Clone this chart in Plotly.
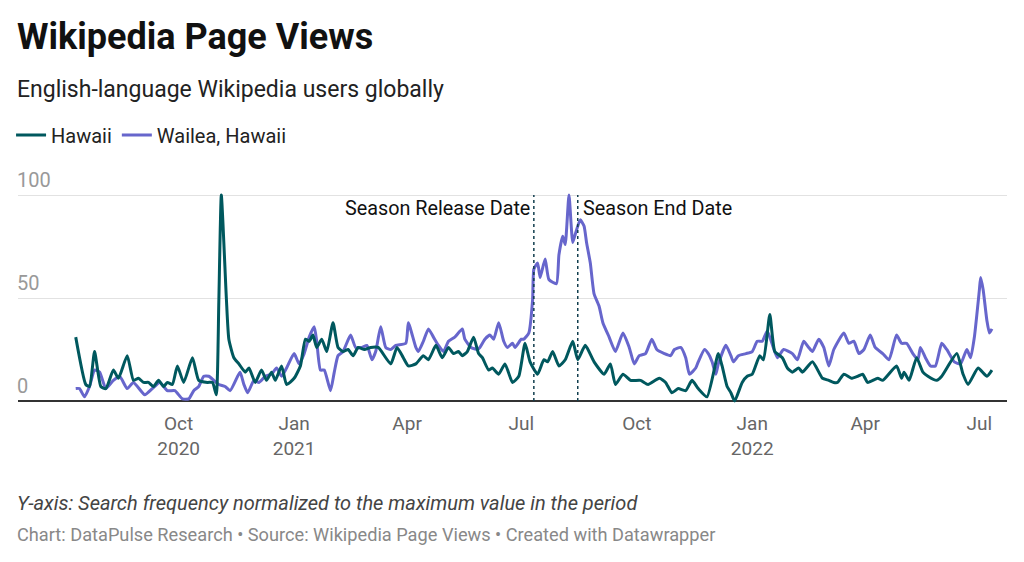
import plotly.graph_objects as go

# Wikipedia page views, normalized to the maximum in the period (=100)
hawaii_dates = [
    "2020-07-11", "2020-07-19", "2020-07-22", "2020-07-26", "2020-07-31", "2020-08-04",
    "2020-08-10", "2020-08-14", "2020-08-21", "2020-08-26", "2020-08-30", "2020-09-03",
    "2020-09-07", "2020-09-11", "2020-09-15", "2020-09-19", "2020-09-22", "2020-09-26",
    "2020-09-30", "2020-10-05", "2020-10-12", "2020-10-17", "2020-10-24", "2020-10-28",
    "2020-10-31", "2020-11-02", "2020-11-04", "2020-11-08", "2020-11-10", "2020-11-14",
    "2020-11-18", "2020-11-23", "2020-11-26", "2020-12-01", "2020-12-06", "2020-12-10",
    "2020-12-14", "2020-12-17", "2020-12-22", "2020-12-26", "2021-01-01", "2021-01-06",
    "2021-01-10", "2021-01-13", "2021-01-16", "2021-01-19", "2021-01-23", "2021-01-27",
    "2021-02-01", "2021-02-05", "2021-02-09", "2021-02-13", "2021-02-17", "2021-02-21",
    "2021-02-26", "2021-03-03", "2021-03-09", "2021-03-19", "2021-03-24", "2021-03-29",
    "2021-04-02", "2021-04-08", "2021-04-14", "2021-04-18", "2021-04-24", "2021-04-29",
    "2021-05-04", "2021-05-08", "2021-05-12", "2021-05-15", "2021-05-19", "2021-05-24",
    "2021-05-28", "2021-05-31", "2021-06-05", "2021-06-08", "2021-06-13", "2021-06-18",
    "2021-06-24", "2021-06-29", "2021-07-04", "2021-07-08", "2021-07-14", "2021-07-19",
    "2021-07-22", "2021-07-26", "2021-07-31", "2021-08-05", "2021-08-11", "2021-08-15",
    "2021-08-21", "2021-08-28", "2021-09-05", "2021-09-10", "2021-09-14", "2021-09-20",
    "2021-09-26", "2021-10-04", "2021-10-10", "2021-10-19", "2021-10-24", "2021-10-29",
    "2021-11-03", "2021-11-09", "2021-11-14", "2021-11-19", "2021-11-26", "2021-12-05",
    "2021-12-08", "2021-12-12", "2021-12-15", "2021-12-18", "2021-12-24", "2021-12-28",
    "2022-01-01", "2022-01-07", "2022-01-10", "2022-01-15", "2022-01-19", "2022-01-25",
    "2022-01-29", "2022-02-02", "2022-02-07", "2022-02-10", "2022-02-18", "2022-02-26",
    "2022-03-03", "2022-03-07", "2022-03-10", "2022-03-15", "2022-03-21", "2022-03-26",
    "2022-03-30", "2022-04-03", "2022-04-11", "2022-04-15", "2022-04-26", "2022-04-30",
    "2022-05-02", "2022-05-06", "2022-05-12", "2022-05-17", "2022-05-21", "2022-05-28",
    "2022-06-01", "2022-06-13", "2022-06-18", "2022-06-22", "2022-06-30", "2022-07-07",
    "2022-07-11",
]
hawaii_views = [
    31, 8, 7, 24, 7, 6,
    15, 11, 22, 10, 11, 9,
    9, 7, 10, 7, 9, 8,
    17, 9, 21, 10, 9, 9,
    3, 48, 100, 50, 30, 21,
    18, 14, 16, 9, 15, 10,
    14, 10, 17, 8, 11, 17,
    30, 29, 32, 26, 30, 24,
    38, 26, 24, 25, 22, 26,
    25, 26, 26, 18, 26, 21,
    17, 18, 22, 20, 27, 21,
    26, 23, 24, 22, 24, 31,
    23, 21, 15, 16, 13, 18,
    9, 12, 28, 19, 13, 20,
    19, 24, 17, 20, 29, 20,
    27, 19, 13, 18, 8, 13,
    10, 10, 8, 11, 9, 4,
    6, 5, 10, 6, 2, 23,
    17, 7, 4, 0, 9, 12,
    13, 22, 20, 42, 24, 21,
    16, 14, 16, 14, 19, 11,
    10, 9, 9, 13, 11, 12,
    13, 9, 11, 10, 17, 11,
    14, 10, 21, 14, 12, 10,
    12, 23, 13, 8, 16, 12,
    15,
]

wailea_dates = [
    "2020-07-11", "2020-07-14", "2020-07-18", "2020-07-22", "2020-07-26", "2020-07-30",
    "2020-08-04", "2020-08-10", "2020-08-15", "2020-08-21", "2020-08-26", "2020-09-04",
    "2020-09-10", "2020-09-16", "2020-09-22", "2020-09-28", "2020-10-04", "2020-10-09",
    "2020-10-13", "2020-10-17", "2020-10-21", "2020-10-25", "2020-10-29", "2020-11-02",
    "2020-11-07", "2020-11-11", "2020-11-17", "2020-11-19", "2020-11-22", "2020-11-25",
    "2020-11-30", "2020-12-04", "2020-12-09", "2020-12-14", "2020-12-18", "2020-12-22",
    "2020-12-26", "2021-01-01", "2021-01-05", "2021-01-09", "2021-01-13", "2021-01-17",
    "2021-01-19", "2021-01-22", "2021-01-25", "2021-01-30", "2021-02-02", "2021-02-05",
    "2021-02-09", "2021-02-15", "2021-02-19", "2021-02-24", "2021-02-28", "2021-03-04",
    "2021-03-07", "2021-03-11", "2021-03-15", "2021-03-19", "2021-03-23", "2021-03-31",
    "2021-04-02", "2021-04-08", "2021-04-10", "2021-04-14", "2021-04-18", "2021-04-22",
    "2021-04-26", "2021-04-30", "2021-05-04", "2021-05-09", "2021-05-15", "2021-05-17",
    "2021-05-22", "2021-05-27", "2021-05-29", "2021-06-02", "2021-06-06", "2021-06-09",
    "2021-06-13", "2021-06-17", "2021-06-20", "2021-06-24", "2021-06-26", "2021-07-01",
    "2021-07-03", "2021-07-07", "2021-07-10", "2021-07-11", "2021-07-14", "2021-07-16",
    "2021-07-20", "2021-07-23", "2021-07-29", "2021-07-31", "2021-08-03", "2021-08-05",
    "2021-08-08", "2021-08-11", "2021-08-13", "2021-08-17", "2021-08-20", "2021-08-22",
    "2021-08-25", "2021-08-28", "2021-09-01", "2021-09-04", "2021-09-09", "2021-09-14",
    "2021-09-20", "2021-09-25", "2021-09-29", "2021-10-03", "2021-10-08", "2021-10-13",
    "2021-10-17", "2021-10-23", "2021-10-28", "2021-10-31", "2021-11-05", "2021-11-09",
    "2021-11-12", "2021-11-17", "2021-11-19", "2021-11-24", "2021-11-27", "2021-11-30",
    "2021-12-03", "2021-12-05", "2021-12-11", "2021-12-15", "2021-12-17", "2021-12-21",
    "2021-12-27", "2022-01-01", "2022-01-05", "2022-01-09", "2022-01-13", "2022-01-21",
    "2022-01-26", "2022-02-02", "2022-02-06", "2022-02-11", "2022-02-15", "2022-02-18",
    "2022-02-23", "2022-02-27", "2022-03-03", "2022-03-07", "2022-03-15", "2022-03-19",
    "2022-03-23", "2022-03-27", "2022-03-31", "2022-04-05", "2022-04-09", "2022-04-15",
    "2022-04-20", "2022-04-26", "2022-04-30", "2022-05-04", "2022-05-09", "2022-05-13",
    "2022-05-15", "2022-05-19", "2022-05-23", "2022-05-27", "2022-06-01", "2022-06-05",
    "2022-06-11", "2022-06-16", "2022-06-21", "2022-06-24", "2022-06-27", "2022-07-01",
    "2022-07-02", "2022-07-04", "2022-07-07", "2022-07-09", "2022-07-11",
]
wailea_views = [
    6, 6, 2, 7, 15, 14,
    6, 10, 12, 6, 9, 3,
    6, 9, 5, 5, 1, 1,
    5, 7, 12, 12, 10, 8,
    7, 5, 12, 14, 8, 4,
    10, 9, 12, 13, 16, 12,
    16, 23, 18, 23, 31, 36,
    29, 15, 15, 5, 14, 22,
    24, 32, 26, 26, 27, 20,
    24, 36, 26, 25, 27, 28,
    38, 26, 24, 29, 35, 31,
    27, 24, 29, 31, 35, 30,
    26, 25, 26, 30, 32, 30,
    38, 29, 26, 28, 26, 30,
    30, 33, 49, 64, 67, 60,
    69, 59, 57, 71, 80, 76,
    100, 77, 81, 88, 85, 77,
    67, 52, 46, 38, 31, 24,
    33, 26, 18, 22, 23, 30,
    25, 23, 22, 25, 26, 21,
    13, 16, 19, 25, 23, 19,
    13, 18, 27, 22, 19, 22,
    23, 24, 29, 29, 34, 21,
    25, 23, 20, 29, 26, 24,
    30, 26, 17, 25, 33, 28,
    29, 23, 25, 32, 26, 23,
    20, 32, 28, 28, 23, 20,
    26, 21, 17, 17, 28, 25,
    19, 18, 25, 21, 31, 54,
    60, 54, 39, 33, 35,
]

release_date = "2021-07-11"
end_date = "2021-08-15"

tick_dates = ["2020-10-01", "2021-01-01", "2021-04-01", "2021-07-01",
              "2021-10-01", "2022-01-01", "2022-04-01", "2022-07-01"]
tick_labels = ["Oct<br>2020", "Jan<br>2021", "Apr", "Jul",
               "Oct", "Jan<br>2022", "Apr", "Jul"]
y_ticks = [0, 50, 100]

GREEN = "#00585e"
PURPLE = "#6766cc"
FONT = "Roboto"

fig = go.Figure()
fig.add_trace(go.Scatter(x=wailea_dates, y=wailea_views, name="Wailea, Hawaii",
                         mode="lines", legendrank=2,
                         line=dict(color=PURPLE, width=3, shape="spline", smoothing=0.5)))
fig.add_trace(go.Scatter(x=hawaii_dates, y=hawaii_views, name="Hawaii",
                         mode="lines", legendrank=1,
                         line=dict(color=GREEN, width=3, shape="spline", smoothing=0.5)))

# season markers
for d in [release_date, end_date]:
    fig.add_shape(type="line", xref="x", yref="y", x0=d, x1=d, y0=0, y1=100,
                  line=dict(color="#123f4f", width=1.5, dash="dot"))

annotations = [
    dict(text="<b>Wikipedia Page Views</b>", x=0, y=1.726, xref="paper", yref="paper",
         xanchor="left", yanchor="middle", xshift=-3, showarrow=False,
         font=dict(size=36, color="#111111", family=FONT)),
    dict(text="English-language Wikipedia users globally", x=0, y=1.481,
         xref="paper", yref="paper", xanchor="left", yanchor="middle", xshift=-3,
         showarrow=False, font=dict(size=23, color="#222222", family=FONT)),
    dict(text="<i>Y-axis: Search frequency normalized to the maximum value in the period</i>",
         x=0, y=-0.472, xref="paper", yref="paper", xanchor="left", yanchor="middle",
         xshift=-3, showarrow=False, font=dict(size=20, color="#444444", family=FONT)),
    dict(text="Chart: DataPulse Research • Source: Wikipedia Page Views • Created with Datawrapper",
         x=0, y=-0.618, xref="paper", yref="paper", xanchor="left", yanchor="middle",
         xshift=-3, showarrow=False, font=dict(size=18.2, color="#888888", family=FONT)),
    dict(text="Season Release Date", x=release_date, y=93.7, xref="x", yref="y",
         xanchor="right", yanchor="middle", xshift=-2, showarrow=False,
         font=dict(size=19.8, color="#111111", family=FONT)),
    dict(text="Season End Date", x=end_date, y=93.7, xref="x", yref="y",
         xanchor="left", yanchor="middle", xshift=3, showarrow=False,
         font=dict(size=19.8, color="#111111", family=FONT)),
]
for v in y_ticks:
    annotations.append(dict(text=str(v), x=0, y=v, xref="paper", yref="y",
                            xanchor="left", yanchor="bottom", xshift=-3, yshift=1,
                            showarrow=False,
                            font=dict(size=20, color="#999999", family=FONT)))

fig.update_layout(
    width=1024, height=562,
    margin=dict(l=17, r=17, t=191, b=159),
    paper_bgcolor="white", plot_bgcolor="white",
    font=dict(family=FONT),
    showlegend=True,
    legend=dict(orientation="h", x=-0.006, xanchor="left", y=1.264, yanchor="middle",
                font=dict(size=20, color="#222222", family=FONT),
                itemwidth=30, bgcolor="rgba(0,0,0,0)"),
    annotations=annotations,
    xaxis=dict(type="date", range=["2020-05-26", "2022-07-23"],
               tickvals=tick_dates, ticktext=tick_labels,
               showgrid=False, showline=False, zeroline=False, ticks="",
               ticklabelstandoff=7,
               tickfont=dict(size=19, color="#666666", family=FONT)),
    yaxis=dict(range=[-1, 102], tickvals=[50, 100], showticklabels=False,
               showgrid=True, gridcolor="#e2e2e2", gridwidth=1,
               zeroline=True, zerolinecolor="#333333", zerolinewidth=1.5,
               ticks=""),
)

fig.write_html("out.html", config={"displayModeBar": False},
               post_script="document.body.style.margin='0';")
